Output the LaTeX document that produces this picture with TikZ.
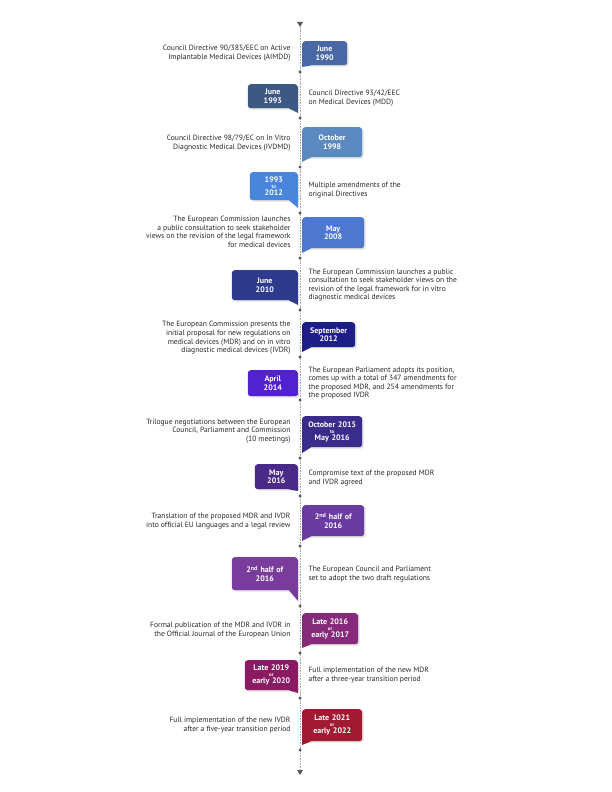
\documentclass[tikz,border=0pt]{standalone}
\usepackage{fontspec}
\setmainfont{PT Sans}
\usetikzlibrary{calc,shadows}
\definecolor{cA}{HTML}{4A67A6}
\definecolor{cB}{HTML}{3E5884}
\definecolor{cC}{HTML}{5A8ABF}
\definecolor{cD}{HTML}{4A85DC}
\definecolor{cE}{HTML}{4C78D0}
\definecolor{cF}{HTML}{2E3A8C}
\definecolor{cG}{HTML}{1E1E88}
\definecolor{cH}{HTML}{5322D0}
\definecolor{cI}{HTML}{3A2C8A}
\definecolor{cJ}{HTML}{4A2A88}
\definecolor{cK}{HTML}{6A3CA2}
\definecolor{cL}{HTML}{7A3C9C}
\definecolor{cM}{HTML}{882A7C}
\definecolor{cN}{HTML}{8A1A62}
\definecolor{cO}{HTML}{A01A32}
\tikzset{
  datebox/.style={rounded corners=3pt, text=white, font=\bfseries\fontsize{8}{8.5}\selectfont,
    align=center, inner sep=1pt, drop shadow={opacity=0.25, shadow xshift=1.5pt, shadow yshift=-1.5pt}},
  rtext/.style={anchor=west, align=left, font=\fontsize{7.6}{8.6}\selectfont, text=black!85},
  ltext/.style={anchor=east, align=right, font=\fontsize{7.6}{8.6}\selectfont, text=black!85},
  dot/.style={circle, fill=black!65, inner sep=0pt, minimum size=3.2pt}
}
\newcommand\sm[1]{\\[-2.5pt]{\fontsize{5}{5}\selectfont #1}\\[-1.5pt]}
% callout on the right of the line: name, top, bottom, right edge, dot y, colour, label
\newcommand\rcall[7]{%
  \node[datebox, fill=#6, anchor=north west, text width=#4-302-2, minimum height=#3-#2]
    (#1) at (302,#2) {#7};
  \node[dot] (#1dot) at (300,#5) {};
  \coordinate (#1tip) at (302,#5-5);
  \fill[#6] ([yshift=3pt]#1.south west) -- ([xshift=9pt]#1.south west) -- (#1tip) -- cycle;}
% callout on the left of the line
\newcommand\lcall[7]{%
  \node[datebox, fill=#6, anchor=north east, text width=298-#4-2, minimum height=#3-#2]
    (#1) at (298,#2) {#7};
  \node[dot] (#1dot) at (300,#5) {};
  \coordinate (#1tip) at (298,#5-5);
  \fill[#6] ([yshift=3pt]#1.south east) -- ([xshift=-9pt]#1.south east) -- (#1tip) -- cycle;}
\begin{document}
\begin{tikzpicture}[x=1pt, y=-1pt]
  \useasboundingbox (0,0) rectangle (612,792);
  % time line
  \coordinate (top) at (300,25);
  \coordinate (bottom) at (300,773);
  \draw[black!35, densely dotted, line width=0.6pt] (top) -- (bottom);
  \fill[black!65] ($(top)+(-3,-3)$) -- ($(top)+(3,-3)$) -- ($(top)+(0,2)$) -- cycle;
  \fill[black!65] ($(bottom)+(-3,-3)$) -- ($(bottom)+(3,-3)$) -- ($(bottom)+(0,2)$) -- cycle;

  % events
  \rcall{e1}{41}{65}{347}{72}{cA}{June\\1990}
  \node[ltext] (t1) at (294,53) {Council Directive 90/385/EEC on Active\\Implantable Medical Devices (AIMDD)};
  \lcall{e2}{84}{108}{248}{118}{cB}{June\\1993}
  \node[rtext] (t2) at (305,98) {Council Directive 93/42/EEC\\on Medical Devices (MDD)};
  \rcall{e3}{127}{157}{362}{167}{cC}{October\\1998}
  \node[ltext] (t3) at (294,143) {Council Directive 98/79/EC on In Vitro\\Diagnostic Medical Devices (IVDMD)};
  \lcall{e4}{172}{200}{250}{213}{cD}{1993\sm{to}2012}
  \node[rtext] (t4) at (305,190) {Multiple amendments of the\\original Directives};
  \rcall{e5}{217}{248}{364}{258}{cE}{May\\2008}
  \node[ltext] (t5) at (294,232) {The European Commission launches\\a public consultation to seek stakeholder\\views on the revision of the legal framework\\for medical devices};
  \lcall{e6}{270}{300}{232}{310}{cF}{June\\2010}
  \node[rtext] (t6) at (305,285) {The European Commission launches a public\\consultation to seek stakeholder views on the\\revision of the legal framework for in vitro\\diagnostic medical devices};
  \rcall{e7}{322}{347}{355}{357}{cG}{September\\2012}
  \node[ltext] (t7) at (294,338) {The European Commission presents the\\initial proposal for new regulations on\\medical devices (MDR) and on in vitro\\diagnostic medical devices (IVDR)};
  \lcall{e8}{370}{396}{248}{400}{cH}{April\\2014}
  \node[rtext] (t8) at (305,383) {The European Parliament adopts its position,\\comes up with a total of 347 amendments for\\the proposed MDR, and 254 amendments for\\the proposed IVDR};
  \rcall{e9}{416}{447}{362}{458}{cI}{October 2015\sm{to}May 2016}
  \node[ltext] (t9) at (294,431) {Trilogue negotiations between the European\\Council, Parliament and Commission\\(10 meetings)};
  \lcall{e10}{464}{489}{255}{496}{cJ}{May\\2016}
  \node[rtext] (t10) at (305,478) {Compromise text of the proposed MDR\\and IVDR agreed};
  \rcall{e11}{505}{536}{364}{546}{cK}{2\textsuperscript{nd} half of\\2016}
  \node[ltext] (t11) at (294,521) {Translation of the proposed MDR and IVDR\\into official EU languages and a legal review};
  \lcall{e12}{557}{590}{232}{606}{cL}{2\textsuperscript{nd} half of\\2016}
  \node[rtext] (t12) at (305,574) {The European Council and Parliament\\set to adopt the two draft regulations};
  \rcall{e13}{613}{644}{358}{653}{cM}{Late 2016\sm{or}early 2017}
  \node[ltext] (t13) at (294,630) {Formal publication of the MDR and IVDR in\\the Official Journal of the European Union};
  \lcall{e14}{660}{690}{245}{698}{cN}{Late 2019\sm{or}early 2020}
  \node[rtext] (t14) at (305,675) {Full implementation of the new MDR\\after a three-year transition period};
  \rcall{e15}{709}{741}{362}{750}{cO}{Late 2021\sm{or}early 2022}
  \node[ltext] (t15) at (294,725) {Full implementation of the new IVDR\\after a five-year transition period};
\end{tikzpicture}
\end{document}
